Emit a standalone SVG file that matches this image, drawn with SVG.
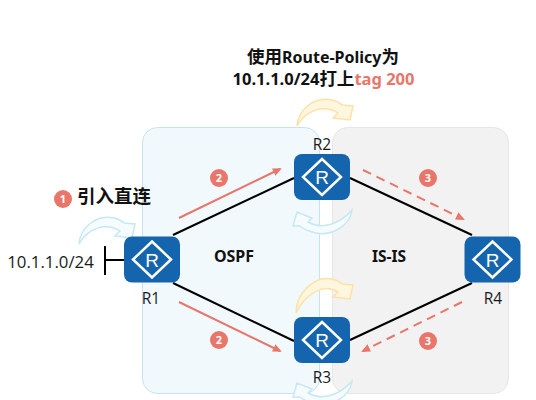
<svg xmlns="http://www.w3.org/2000/svg" width="536" height="400" viewBox="0 0 536 400">
<style>
.c{font-family:"Noto Sans","Noto Sans CJK SC",sans-serif;fill:#111;font-weight:700}
.n{font-family:"Open Sans","Liberation Sans",sans-serif;fill:#1a1a1a;font-size:15.500px;text-anchor:middle}
.b{font-family:"Open Sans","Liberation Sans",sans-serif;fill:#fff;font-size:11px;font-weight:700;text-anchor:middle}
.link{stroke:#000;stroke-width:2;fill:none}
.ar{stroke:#e8766a;stroke-width:2;fill:none;marker-end:url(#a)}
.d{stroke-dasharray:9 6}
.y{fill:#fff6e0;stroke:#fde2a6;stroke-width:1.500}
.bl{fill:#f6fcfe;stroke:#c4e8f5;stroke-width:1.500}
</style>
<defs>
<marker id="a" markerWidth="9" markerHeight="8" refX="7" refY="4" orient="auto" markerUnits="userSpaceOnUse"><path d="M0 0L9 4L0 8Z" fill="#e8766a"/></marker>
<g id="rt"><rect x="-28" y="-23" width="56" height="46" rx="8" fill="#1464ae"/><path d="M0-18L19 0L0 18L-19 0Z" fill="none" stroke="#fff" stroke-width="2.500"/><text y="7" text-anchor="middle" font-family="Liberation Sans,sans-serif" font-size="19" fill="#fff">R</text></g>
</defs>
<rect width="536" height="400" fill="#fff"/>
<g id="regions">
<rect id="ospf" x="142.500" y="127.500" width="177" height="266" rx="15" fill="#f2f9fd" stroke="#c5e4f3"/>
<rect id="isis" x="332.500" y="127.500" width="176" height="266" rx="15" fill="#f2f2f2" stroke="#e6e6e6"/>
<text class="c" x="234" y="262" font-size="16" text-anchor="middle">OSPF</text>
<text class="c" x="389" y="262" font-size="15.500" text-anchor="middle">IS-IS</text>
</g>
<g id="connectors">
<path class="link" d="M173 235L294 178M350 178L472 235M173 283L294 341M350 340L472 283"/>
<path class="link" d="M105 246V275M105 260H124"/>
<path class="ar" d="M179 218L280 169"/>
<path class="ar" d="M179 302L280 351"/>
<path class="ar d" d="M363 170L463 219"/>
<path class="ar d" d="M462 302L363 351"/>
</g>
<g id="curves">
<path class="y" d="M297 126C298 110 314 96 332 100C337 101 340 103 342 105L353 106L350 120L333 118L338 113C324 104 306 110 297 126Z"/>
<path class="y" d="M296 313C296 294 314 275 332 279C337 280 340 282 342 284L353 285L350 299L333 297L338 292C324 283 306 293 296 313Z"/>
<path class="bl" d="M79 244C80 228 96 214 114 218C119 219 122 221 124 223L135 224L132 238L115 236L120 231C106 222 88 228 79 244Z"/>
<path class="bl" d="M352 210C350 226 330 238 312 232C306 230 302 228 300 226L293 226L297 212L312 218L308 222C322 230 340 224 352 210Z"/>
<path class="bl" d="M352 381C350 397 330 409 312 403C306 401 302 399 300 397L293 397L297 383L312 389L308 393C322 401 340 395 352 381Z"/>
</g>
<g id="R1"><use href="#rt" x="152" y="259.500"/><text class="n" x="151" y="304">R1</text></g>
<g id="R2"><use href="#rt" x="322" y="177"/><text class="n" x="322" y="150">R2</text></g>
<g id="R3"><use href="#rt" x="322" y="340"/><text class="n" x="322" y="383">R3</text></g>
<g id="R4"><use href="#rt" x="492.500" y="259.500"/><text class="n" x="493" y="304">R4</text></g>
<g id="badges">
<circle cx="63" cy="199" r="9" fill="#e8766a"/><text class="b" x="63" y="203">1</text>
<circle cx="219" cy="178" r="9" fill="#e8766a"/><text class="b" x="219" y="182">2</text>
<circle cx="219" cy="340" r="9" fill="#e8766a"/><text class="b" x="219" y="344">2</text>
<circle cx="428" cy="178" r="9" fill="#e8766a"/><text class="b" x="428" y="182">3</text>
<circle cx="428" cy="341" r="9" fill="#e8766a"/><text class="b" x="428" y="345">3</text>
</g>
<g id="labels">
<text class="c" x="323" y="63" font-size="16" text-anchor="middle"><tspan font-size="17.500">使用</tspan>Route-Policy<tspan font-size="17.500">为</tspan></text>
<text class="c" x="323.500" y="85" font-size="16.500" text-anchor="middle">10.1.1.0/24<tspan font-size="17.500">打上</tspan><tspan fill="#e8766a">tag 200</tspan></text>
<text class="c" x="114" y="203" font-size="18.500" text-anchor="middle">引入直连</text>
<text class="n" style="font-size:16.800px" x="50.500" y="268">10.1.1.0/24</text>
</g>
</svg>
